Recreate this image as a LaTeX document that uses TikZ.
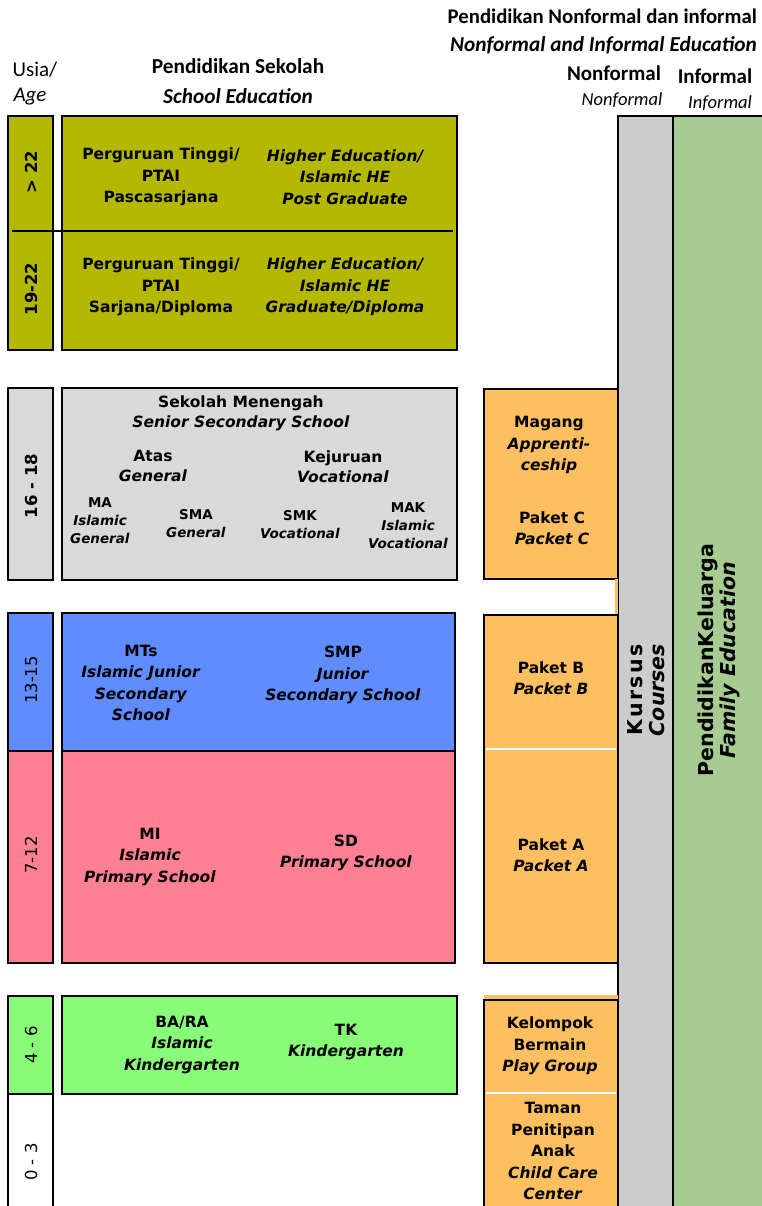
\documentclass[tikz,border=0pt]{standalone}
\usepackage{fontspec}
\setmainfont{DejaVu Sans}
\newfontfamily\hdfont{Carlito}
\definecolor{olivebox}{HTML}{B5B800}
\definecolor{seniorgrey}{HTML}{D9D9D9}
\definecolor{juniorblue}{HTML}{5F8CFF}
\definecolor{primarypink}{HTML}{FF7F93}
\definecolor{kindergreen}{HTML}{88FC78}
\definecolor{paketorange}{HTML}{FDBF5F}
\definecolor{kursusgrey}{HTML}{CCCCCC}
\definecolor{familygreen}{HTML}{A6CC92}
\newcommand{\en}[1]{\textit{#1}}
\tikzset{
  box/.style={draw=black, line width=1.5pt},
  lbl/.style={align=center, inner sep=0pt, font=\bfseries\fontsize{15.5}{21.5}\selectfont},
  sublbl/.style={align=center, inner sep=0pt, font=\bfseries\fontsize{13.5}{18}\selectfont},
  agebold/.style={rotate=90, inner sep=0pt, font=\bfseries\fontsize{16.5}{20}\selectfont},
  agelbl/.style={rotate=90, inner sep=0pt, font=\fontsize{16.5}{20}\selectfont},
  side/.style={rotate=90, align=center, inner sep=0pt, font=\bfseries\fontsize{20.5}{21.5}\selectfont},
  head/.style={inner sep=0pt, font=\hdfont\fontsize{21}{24}\selectfont},
}
\begin{document}
\begin{tikzpicture}[x=1pt,y=-1pt]
  \useasboundingbox (0,0) rectangle (762,1206);

  \fill[kursusgrey] (618,116) rectangle (673,1206);
  \draw[box] (618,1206) |- (673,116) -- (673,1206);
  \fill[familygreen] (673,116) rectangle (762,1206);
  \draw[box] (673,1206) |- (762,116);

  \draw[box, fill=olivebox] (8,116) rectangle (53,350);
  \draw[box, fill=olivebox] (62,116) rectangle (457,350);
  \coordinate (hesplit1) at (12,231);
  \coordinate (hesplit2) at (453,231);
  \draw[box] (hesplit1) -- (hesplit2);
  \draw[box, fill=seniorgrey] (8,388) rectangle (53,580);
  \draw[box, fill=seniorgrey] (62,388) rectangle (457,580);
  \draw[box, fill=juniorblue] (8,613) rectangle (53,751);
  \draw[box, fill=juniorblue] (62,613) rectangle (455,751);
  \draw[box, fill=primarypink] (8,751) rectangle (53,963);
  \draw[box, fill=primarypink] (62,751) rectangle (455,963);
  \draw[box, fill=kindergreen] (8,996) rectangle (53,1094);
  \draw[box, fill=kindergreen] (62,996) rectangle (457,1094);
  \draw[box] (8,1206) |- (53,1094) -- (53,1206);

  \draw[box, fill=paketorange] (484,389) rectangle (618,579);
  \fill[paketorange] (615,579) rectangle (617.5,615);
  \draw[box, fill=paketorange] (484,615) rectangle (618,963);
  \draw[white, line width=1.2pt] (486,749) -- (616,749);
  \fill[paketorange] (484,995) rectangle (618,999);
  \fill[paketorange] (484,1000) rectangle (618,1206);
  \draw[box] (484,1206) |- (618,1000) -- (618,1206);
  \draw[white, line width=1.2pt] (486,1093) -- (616,1093);

  \node[head] (usia) at (35,70) {Usia/};
  \node[head] (age) at (30,97) {\itshape Age};
  \node[head, font=\hdfont\bfseries\fontsize{21.3}{24}\selectfont] (sekolah) at (238,66) {Pendidikan Sekolah};
  \node[head, font=\hdfont\bfseries\itshape\fontsize{21.3}{24}\selectfont] (school) at (238,96) {School Education};
  \node[head, font=\hdfont\bfseries\fontsize{20.8}{24}\selectfont, anchor=east] (pnf) at (757,16) {Pendidikan Nonformal dan informal};
  \node[head, font=\hdfont\bfseries\itshape\fontsize{21.3}{24}\selectfont, anchor=east] (nie) at (757,45) {Nonformal and Informal Education};
  \node[head, font=\hdfont\bfseries\fontsize{21}{24}\selectfont] (nf) at (614,73) {Nonformal};
  \node[head, font=\hdfont\bfseries\fontsize{21}{24}\selectfont] (inf) at (715,76) {Informal};
  \node[head, font=\hdfont\itshape\fontsize{18.5}{22}\selectfont] (nfen) at (622,100) {Nonformal};
  \node[head, font=\hdfont\itshape\fontsize{18.5}{22}\selectfont] (infen) at (720,103) {Informal};

  \node[agebold] (a22) at (31,172) {> 22};
  \node[agebold] (a19) at (31,289) {19-22};
  \node[agebold] (a16) at (31,486) {16 - 18};
  \node[agelbl] (a13) at (31,680) {13-15};
  \node[agelbl] (a7) at (31,855) {7-12};
  \node[agelbl] (a4) at (31,1045) {4 - 6};
  \node[agelbl] (a0) at (31,1162) {0 - 3};

  \node[lbl] (pasca) at (161,177) {Perguruan Tinggi/\\PTAI\\Pascasarjana};
  \node[lbl, font=\bfseries\itshape\fontsize{15.5}{21.5}\selectfont] (postgrad) at (345,177) {Higher Education/\\Islamic HE\\Post Graduate};
  \node[lbl] (sarjana) at (161,287) {Perguruan Tinggi/\\PTAI\\Sarjana/Diploma};
  \node[lbl, font=\bfseries\itshape\fontsize{15.5}{21.5}\selectfont] (grad) at (345,287) {Higher Education/\\Islamic HE\\Graduate/Diploma};

  \node[lbl, font=\bfseries\fontsize{15.5}{20}\selectfont] (menengah) at (241,413) {Sekolah Menengah\\\en{Senior Secondary School}};
  \node[lbl, font=\bfseries\fontsize{15.5}{20}\selectfont] (atas) at (153,466) {Atas\\\en{General}};
  \node[lbl, font=\bfseries\fontsize{15.5}{20}\selectfont] (kejuruan) at (343,467) {Kejuruan\\\en{Vocational}};
  \node[sublbl] (ma) at (100,521) {MA\\\en{Islamic}\\\en{General}};
  \node[sublbl] (sma) at (196,524) {SMA\\\en{General}};
  \node[sublbl] (smk) at (300,525) {SMK\\\en{Vocational}};
  \node[sublbl] (mak) at (408,526) {MAK\\\en{Islamic}\\\en{Vocational}};

  \node[lbl] (mts) at (141,683) {MTs\\\en{Islamic Junior}\\\en{Secondary}\\\en{School}};
  \node[lbl] (smp) at (343,675) {SMP\\\en{Junior}\\\en{Secondary School}};
  \node[lbl] (mi) at (150,857) {MI\\\en{Islamic}\\\en{Primary School}};
  \node[lbl] (sd) at (346,853) {SD\\\en{Primary School}};
  \node[lbl] (bara) at (182,1045) {BA/RA\\\en{Islamic}\\\en{Kindergarten}};
  \node[lbl] (tk) at (346,1042) {TK\\\en{Kindergarten}};

  \node[lbl] (magang) at (549,445) {Magang\\\en{Apprenti-}\\\en{ceship}};
  \node[lbl] (paketc) at (552,528) {Paket C\\\en{Packet C}};
  \node[lbl] (paketb) at (551,678) {Paket B\\\en{Packet B}};
  \node[lbl] (paketa) at (551,855) {Paket A\\\en{Packet A}};
  \node[lbl] (kb) at (550,1046) {Kelompok\\Bermain\\\en{Play Group}};
  \node[lbl] (tpa) at (553,1151) {Taman\\Penitipan\\Anak\\\en{Child Care}\\\en{Center}};

  \node[side] (kursus) at (646,690) {\addfontfeature{LetterSpace=12}Kursus\\\en{Courses}};
  \node[side] (keluarga) at (719,660) {PendidikanKeluarga\\\en{Family Education}};
\end{tikzpicture}
\end{document}
